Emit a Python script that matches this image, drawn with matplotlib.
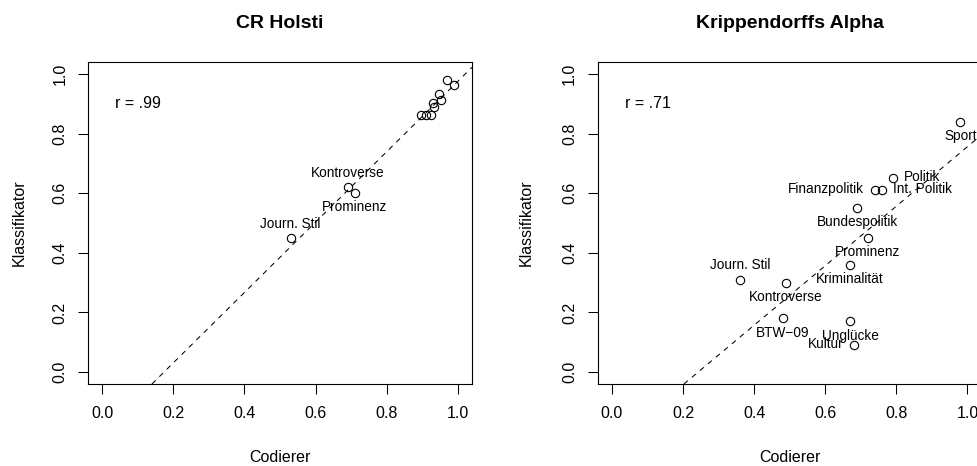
import matplotlib
matplotlib.use("Agg")
import matplotlib.pyplot as plt

plt.rcParams['font.family'] = ['Liberation Sans', 'DejaVu Sans']

# CR Holsti panel (Codierer, Klassifikator)
holsti_x = [0.53, 0.69, 0.71, 0.897, 0.911, 0.924, 0.933, 0.93, 0.952, 0.948, 0.969, 0.99]
holsti_y = [0.45, 0.62, 0.60, 0.861, 0.861, 0.861, 0.889, 0.903, 0.911, 0.933, 0.981, 0.962]
holsti_lab = ['Journ. Stil', 'Kontroverse', 'Prominenz', '', '', '', '', '', '', '', '', '']
holsti_pos = [3, 3, 1, 0, 0, 0, 0, 0, 0, 0, 0, 0]
holsti_fit = (-0.205, 1.18)  # intercept, slope of dashed line
holsti_r = 'r = .99'

# Krippendorffs Alpha panel
alpha_lab = ['Sport', 'Politik', 'Finanzpolitik', 'Int. Politik', 'Bundespolitik', 'Prominenz',
             'Kriminalität', 'Journ. Stil', 'Kontroverse', 'BTW\u221209', 'Unglücke', 'Kultur']
alpha_x = [0.98, 0.79, 0.74, 0.76, 0.69, 0.72, 0.67, 0.36, 0.49, 0.48, 0.67, 0.68]
alpha_y = [0.84, 0.65, 0.61, 0.61, 0.55, 0.45, 0.36, 0.31, 0.30, 0.18, 0.17, 0.09]
alpha_pos = [1, 4, 2, 4, 1, 1, 1, 3, 1, 1, 1, 2]
alpha_fit = (-0.242, 0.998)
alpha_r = 'r = .71'

ticks = [0.0, 0.2, 0.4, 0.6, 0.8, 1.0]
tick_labels = ['0.0', '0.2', '0.4', '0.6', '0.8', '1.0']

fig = plt.figure(figsize=(9.78, 4.66), dpi=100)
W, H = 978, 466


def panel(left_px, x, y, labels, pos, fit, rtext, title, ylab_off):
    ax = fig.add_axes([left_px / W, 1 - 384 / H, 384 / W, 322 / H])
    ax.set_xlim(-0.04, 1.04)
    ax.set_ylim(-0.04, 1.04)
    ax.plot(x, y, 'o', ms=6, mfc='none', mec='black', mew=0.8)
    ax.axline((0, fit[0]), slope=fit[1], color='black', lw=0.75, ls=(0, (5, 5)))
    # R style label positions: 1 below, 2 left, 3 above, 4 right
    for xi, yi, lab, p in zip(x, y, labels, pos):
        if p == 0:
            continue
        off = {1: (0, -10.3), 2: (-7.7, 1), 3: (0, 10.3), 4: (7.7, 1)}[p]
        ha = {1: 'center', 2: 'right', 3: 'center', 4: 'left'}[p]
        ax.annotate(lab, (xi, yi), xytext=off, textcoords='offset points',
                    ha=ha, va='center', fontsize=9.8)
    ax.text(0.1, 0.9, rtext, ha='center', va='center', fontsize=11.5)
    ax.set_xticks(ticks)
    ax.set_xticklabels(tick_labels)
    ax.set_yticks(ticks)
    ax.set_yticklabels(tick_labels, rotation=90, va='center')
    ax.tick_params(direction='out', length=7.2, width=0.75, labelsize=11.5)
    ax.tick_params(axis='x', pad=8.5)
    ax.tick_params(axis='y', pad=7.6)
    for s in ax.spines.values():
        s.set_linewidth(0.8)
    ax.set_xlabel('Codierer', fontsize=11.5, va='center')
    ax.xaxis.set_label_coords(0.5, -0.229)
    ax.set_ylabel('Klassifikator', fontsize=11.5, va='center')
    ax.yaxis.set_label_coords(ylab_off, 0.5)
    ax.set_title(title, fontsize=14, fontweight='bold', pad=24.3)
    return ax


panel(88, holsti_x, holsti_y, holsti_lab, holsti_pos, holsti_fit, holsti_r, 'CR Holsti', -0.178)
panel(597.7, alpha_x, alpha_y, alpha_lab, alpha_pos, alpha_fit, alpha_r, 'Krippendorffs Alpha', -0.185)

fig.savefig('out.png', dpi=100)
